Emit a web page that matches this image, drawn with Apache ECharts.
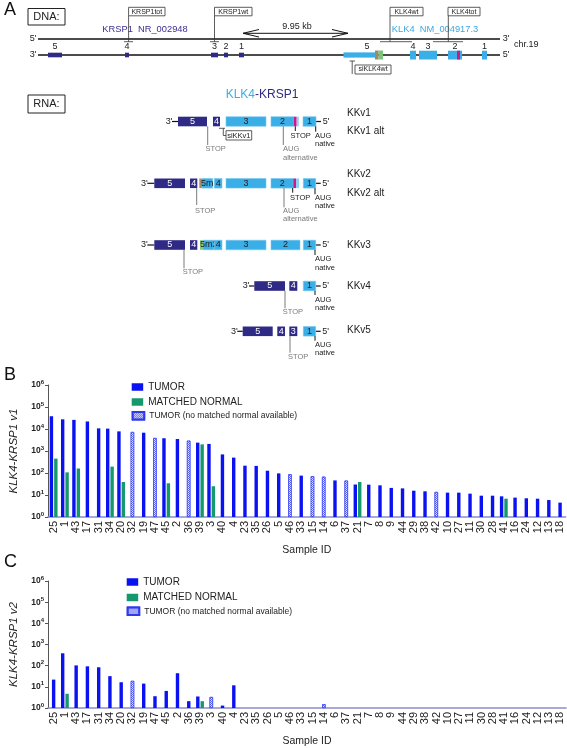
<!DOCTYPE html>
<html><head><meta charset="utf-8">
<script src="https://cdn.jsdelivr.net/npm/echarts@6/dist/echarts.min.js"></script>
<style>html,body{margin:0;padding:0;background:#fff}#c{width:567px;height:748px}</style>
</head><body><div id="c"></div>
<script>
// ---------------- DATA ----------------
const sampleIds = ['25','1','43','17','31','34','20','32','19','47','45','2','36','39','3','40','4','23','35','26','5','46','33','15','14','6','37','21','7','8','9','44','29','38','42','10','27','11','30','28','41','16','24','12','13','18'];
const yTicks = [1,10,100,1000,10000,100000,1000000];

// Panel B: KLK4-KRSP1 v1
const tumorV1    = [38000,27500,26000,22000,10700,10400,7800,null,6800,null,3800,3500,null,2400,2100,700,500,215,210,127,96,null,76,null,null,46,null,30,29.5,27.5,21,20,15.7,14.7,null,12.8,12.8,11.5,9.3,9.3,8.7,7.6,7.1,6.8,5.9,4.5];
const normalV1   = [450,107,160,null,null,195,39,null,null,null,34,null,null,2000,25,null,null,null,null,null,null,null,null,null,null,null,null,39,null,null,null,null,null,null,null,null,null,null,null,null,6.8,null,null,null,null,null];
const noNormalV1 = [null,null,null,null,null,null,null,7300,null,3900,null,null,2950,null,null,null,null,null,null,null,null,87,null,71,68,null,45,null,null,null,null,null,null,null,13.7,null,null,null,null,null,null,null,null,null,null,null];

// Panel C: KLK4-KRSP1 v2
const tumorV2    = [22,385,103,93,84,32,16.5,null,14.2,3.6,6.4,44,2.1,3.5,null,1.3,11.8,null,null,null,null,null,null,null,null,null,null,null,null,null,null,null,null,null,null,null,null,null,null,null,null,null,null,null,null,null];
const normalV2   = [null,4.7,null,null,null,null,null,null,null,null,null,null,null,2.1,null,null,null,null,null,null,null,null,null,null,null,null,null,null,null,null,null,null,null,null,null,null,null,null,null,null,null,null,null,null,null,null];
const noNormalV2 = [null,null,null,null,null,null,null,19,null,null,null,null,null,null,3.3,null,null,null,null,null,null,null,null,null,1.5,null,null,null,null,null,null,null,null,null,null,null,null,null,null,null,null,null,null,null,null,null];

// Panel A schematic (diagram units)
const krsp1DnaExons = [['5',48,62],['4',125,129],['3',211,218],['2',224,228],['1',239,244]];
const klk4DnaExons  = [['4',410,416],['3',419,437],['2',448,462],['1',482,487]];
const primerBoxes   = [['KRSP1tot',128.6,165,128.6,124,133],['KRSP1wt',214.5,252,214.5,210,219],['KLK4wt',390,423,390,380,412],['KLK4tot',448,480,448.3,433,463]];
const kkv1 = [['5',178,207,'K'],['4',213,220,'K'],['3',226,266,'L'],['2',271,294,'L'],['',294,296.7,'M'],['',296.7,298.8,'H'],['1',303,316,'L']];
const kkv2 = [['5',154.3,185,'K'],['4',190,197.3,'K'],['',199.3,202,'B'],['5m',202,212.7,'L'],['4',214.3,222,'L'],['3',226,266,'L'],['2',271,293.3,'L'],['',293.3,296,'M'],['',296,299,'H'],['1',303.3,315.7,'L']];
const kkv3 = [['5',154.3,185,'K'],['4',190,197.3,'K'],['',200,203,'G'],['5m2',203,214.3,'L'],['4',214.3,222,'L'],['3',226,266,'L'],['2',271,300,'L'],['1',303.3,315.7,'L']];
const kkv4 = [['5',254.3,285,'K'],['4',289.3,297.3,'K'],['1',303.3,315.7,'L']];
const kkv5 = [['5',242.7,272.7,'K'],['4',277.3,285,'K'],['3',289.3,297.3,'K'],['1',303.3,315.7,'L']];
const rnaRows = [[kkv1,121.5,168],[kkv2,183.3,143.3],[kkv3,245,143.3],[kkv4,286,245],[kkv5,331.3,233.3]];
const rnaMarks = [
  [207.7,126.3,145,['STOP'],205.5,149.3,'g'],[283.3,126.3,145,['AUG','alternative'],283,149.3,'g'],
  [295.3,126.3,131,['STOP'],290.5,135.7,'k'],[315.7,126.3,131.7,['AUG','native'],315,135.7,'k'],
  [196.7,188.1,205,['STOP'],195,211,'g'],[284,188.1,207.3,['AUG','alternative'],283,210.7,'g'],
  [292.7,188.1,192.7,['STOP'],290,197.7,'k'],[315,188.1,194.3,['AUG','native'],315,197.7,'k'],
  [184,249.8,268.3,['STOP'],182.7,271.7,'g'],[315,249.8,255,['AUG','native'],315,259.3,'k'],
  [285,290.8,308.3,['STOP'],282.7,312.3,'g'],[315,290.8,295,['AUG','native'],315,300,'k'],
  [290,336.1,352.7,['STOP'],288,356.7,'g'],[315,336.1,340.7,['AUG','native'],315,345,'k']
];
const variantNames = [['KKv1',113.3],['KKv1 alt',131.7],['KKv2',174.3],['KKv2 alt',193.3],['KKv3',245],['KKv4',286.7],['KKv5',330.7]];

// ---------------- CHART ----------------
const FONT = '"Liberation Sans", Arial, Helvetica, sans-serif';
const DARK = '#2e2a85', LIGHT = '#3aaee6', TBLUE = '#0a12f2', GREEN = '#15986c';
const hatchStyle = {color:'#5a63f0', borderColor:'#2f3aee', borderWidth:0.6,
  decal:{symbol:'rect', symbolSize:1, color:'rgba(255,255,255,0.85)', dashArrayX:[[1,1],[0,1,1,0]], dashArrayY:[1,0]}};

function renderA(params, api){
  const c = (x,y)=>api.coord([x,y]);
  const ch = [];
  const R = (x0,x1,y0,y1,fill,stroke,lw)=>{const p0=c(x0,y0),p1=c(x1,y1);
    ch.push({type:'rect',shape:{x:Math.min(p0[0],p1[0]),y:Math.min(p0[1],p1[1]),width:Math.abs(p1[0]-p0[0]),height:Math.abs(p1[1]-p0[1])},style:{fill:fill||'none',stroke:stroke||null,lineWidth:lw||0.8}});};
  const L = (pts,stroke,lw)=>ch.push({type:'polyline',shape:{points:pts.map(p=>c(p[0],p[1]))},style:{stroke:stroke||'#111',lineWidth:lw||1,fill:null}});
  const T = (x,y,text,o)=>{const p=c(x,y);ch.push({type:'text',x:p[0],y:p[1],style:Object.assign({text:text,fill:'#222',font:'9px '+FONT,align:'center',verticalAlign:'middle'},o||{})});};
  T(10,10,'A',{font:'18px '+FONT,fill:'#111'});
  R(28,65,8.5,25,'#fff','#222',1); T(46.5,17,'DNA:',{font:'11px '+FONT});
  R(28,65,95,113,'#fff','#222',1); T(46.5,104,'RNA:',{font:'11px '+FONT});
  L([[38,39],[500,39]],'#111',1.3); L([[38,55],[500,55]],'#111',1.3);
  T(33,38.5,"5'",{font:'9px '+FONT}); T(33,55,"3'",{font:'9px '+FONT});
  T(506,38.5,"3'",{font:'9px '+FONT}); T(506,55,"5'",{font:'9px '+FONT});
  T(514,44.5,'chr.19',{font:'9px '+FONT,align:'left'});
  T(145,29.3,'KRSP1  NR_002948',{font:'9.3px '+FONT,fill:'#3b2f91'});
  T(435,29.3,'KLK4  NM_004917.3',{font:'9.3px '+FONT,fill:'#3aa8e0'});
  L([[243,33.3],[348,33.3]],'#111',1);
  L([[259,29.5],[243,33.3],[259,37]],'#111',1); L([[332,29.5],[348,33.3],[332,37]],'#111',1);
  T(297,26.5,'9.95 kb',{font:'9px '+FONT});
  primerBoxes.forEach(b=>{R(b[1],b[2],7.3,15.8,'#fff','#333',0.8);T((b[1]+b[2])/2,11.6,b[0],{font:'7px '+FONT});
    L([[b[3],15.8],[b[3],41.7]],'#333',0.8); L([[b[4],41.7],[b[5],41.7]],'#333',0.8);});
  krsp1DnaExons.forEach(e=>{R(e[1],e[2],52.7,57.3,DARK); T((e[1]+e[2])/2,47,e[0]);});
  R(343.5,375,52.4,57.6,LIGHT); R(375,378.6,50.5,59.5,'#9b8a6e'); R(378.6,383,50.5,59.5,'#7cc47a'); T(367,47,'5');
  klk4DnaExons.forEach(e=>{R(e[1],e[2],50.7,59.5,LIGHT); T((e[1]+e[2])/2,47,e[0]);});
  R(457,460,50.7,59.5,'#d0178a');
  L([[349.6,61],[355,61]],'#333',0.8); L([[352.2,61],[352.2,74]],'#333',0.8);
  R(355,391,65,74,'#fff','#333',0.8); T(373,69.5,'siKLK4wt',{font:'7px '+FONT});
  T(255,95,'KLK4',{font:'12px '+FONT,fill:'#3aaee6',align:'right'});
  T(255,95,'-KRSP1',{font:'12px '+FONT,fill:'#2e2a85',align:'left'});
  rnaRows.forEach(r=>{const segs=r[0], yc=r[1], x3=r[2];
    const first=segs[0][1], last=segs[segs.length-1][2];
    T(x3+1,yc,"3'",{font:'9px '+FONT}); L([[x3+4,yc],[first,yc]],'#111',1.2);
    L([[last,yc],[last+5,yc]],'#111',1.2); T(last+10,yc,"5'",{font:'9px '+FONT});
    segs.forEach(s=>{let fill, tc='#222';
      if(s[3]==='K'){fill=DARK;tc='#fff';} else if(s[3]==='L'){fill=LIGHT;} else if(s[3]==='M'){fill='#d0178a';}
      else if(s[3]==='H'){fill='#8fd0f0';} else if(s[3]==='B'){fill='#a8896a';} else {fill='#8cc96f';}
      R(s[1],s[2],yc-4.8,yc+4.8,fill, s[3]==='L'?'#7cc8ee':null,0.6);
      if(s[0]) T((s[1]+s[2])/2,yc,s[0],{font:'9px '+FONT,fill:tc});});
  });
  L([[219,128.3],[225,128.3]],'#333',0.8); L([[223.3,128.3],[223.3,135.5],[226,135.5]],'#333',0.8);
  R(226,251.7,130.7,140,'#fff','#333',0.8); T(238.8,135.5,'siKKv1',{font:'7.5px '+FONT});
  rnaMarks.forEach(m=>{const col=m[6]==='g'?'#7a7a7a':'#111';
    L([[m[0],m[1]],[m[0],m[2]]],col,1);
    m[3].forEach((t,i)=>T(m[4],m[5]+i*8.4,t,{font:'7.5px '+FONT,fill:m[6]==='g'?'#7a7a7a':'#222',align:'left'}));});
  variantNames.forEach(v=>T(347,v[1],v[0],{font:'10px '+FONT,align:'left'}));
  return {type:'group',children:ch};
}

const paired = (t,n)=>t.map((v,i)=>n[i]!=null?v:null);
const single = (t,n)=>t.map((v,i)=>n[i]==null?v:null);

function supLabel(v){const e=Math.round(Math.log10(v));return '{b|10}{s|'+e+'}';}
function logAxis(gi,name){return {type:'log',logBase:10,gridIndex:gi,min:yTicks[0],max:yTicks[yTicks.length-1],
  name:name,nameLocation:'middle',nameGap:28,nameRotate:90,
  nameTextStyle:{fontFamily:FONT,fontStyle:'italic',fontSize:11.5,color:'#222'},
  axisLine:{show:true,lineStyle:{color:'#555',width:1}},axisTick:{show:true,length:3,lineStyle:{color:'#555'}},
  minorTick:{show:false},splitLine:{show:false},
  axisLabel:{formatter:supLabel,margin:4,rich:{b:{fontFamily:FONT,fontSize:8.5,fontWeight:'bold',color:'#222'},
    s:{fontFamily:FONT,fontSize:6,fontWeight:'bold',color:'#222',verticalAlign:'top',padding:[0,0,6,0]}}}};}
function catAxis(gi,show){return {type:'category',gridIndex:gi,data:sampleIds,show:show,
  name:show?'Sample ID':'',nameLocation:'middle',nameGap:28,nameTextStyle:{fontFamily:FONT,fontSize:10.5,color:'#222'},
  axisLine:{show:true,lineStyle:{color:'#8a8fc8',width:1.5}},axisTick:{show:false},
  axisLabel:{interval:0,rotate:90,margin:4,fontFamily:FONT,fontSize:11,color:'#222'}};}
function bars(name,data,xi,yi,style,gap){return {type:'bar',name:name,data:data,xAxisIndex:xi,yAxisIndex:yi,
  barWidth:3.4,barGap:gap,itemStyle:style,emphasis:{disabled:true},animation:false};}
function legend(name,left,top,fs){return {data:[name],left:left,top:top,orient:'vertical',padding:0,
  itemWidth:11.5,itemHeight:7.5,icon:'rect',selectedMode:false,textStyle:{fontFamily:FONT,fontSize:fs,color:'#222'}};}

const NM='TUMOR (no matched normal available)';
const option = {
  animation:false,
  grid:[{left:0,top:0,width:567,height:370},
        {left:44.3,right:1.3,top:385,bottom:231},
        {left:41.5,right:1,top:581,bottom:35.5}],
  xAxis:[{type:'value',gridIndex:0,min:0,max:567,show:false},
         catAxis(1,true),catAxis(1,false),catAxis(2,true),catAxis(2,false)],
  yAxis:[{type:'value',gridIndex:0,min:0,max:370,inverse:true,show:false},
         logAxis(1,'KLK4-KRSP1 v1'),logAxis(2,'KLK4-KRSP1 v2')],
  legend:[legend('TUMOR',131.7,382,10),legend('MATCHED NORMAL',131.7,397,10),legend(NM,131.7,411,8.5),
          legend('TUMOR',126.7,577,10),legend('MATCHED NORMAL',126.7,592.5,10),legend(NM,126.7,606.5,8.5)],
  graphic:[{type:'text',left:4,top:366,style:{text:'B',font:'18px '+FONT,fill:'#111'}},
           {type:'text',left:4,top:553,style:{text:'C',font:'18px '+FONT,fill:'#111'}}],
  series:[
    {type:'custom',xAxisIndex:0,yAxisIndex:0,data:[[0,0]],renderItem:renderA,clip:false,silent:true},
    bars('TUMOR',paired(tumorV1,normalV1),1,1,{color:TBLUE},'30%'),
    bars('MATCHED NORMAL',normalV1,1,1,{color:GREEN},'30%'),
    bars('TUMOR',single(tumorV1,normalV1),2,1,{color:TBLUE},'-100%'),
    bars(NM,noNormalV1,2,1,hatchStyle,'-100%'),
    bars('TUMOR',paired(tumorV2,normalV2),3,2,{color:TBLUE},'30%'),
    bars('MATCHED NORMAL',normalV2,3,2,{color:GREEN},'30%'),
    bars('TUMOR',single(tumorV2,normalV2),4,2,{color:TBLUE},'-100%'),
    bars(NM,noNormalV2,4,2,hatchStyle,'-100%')
  ]
};
const chart = echarts.init(document.getElementById('c'),null,{renderer:'canvas'});
chart.setOption(option);
</script></body></html>
